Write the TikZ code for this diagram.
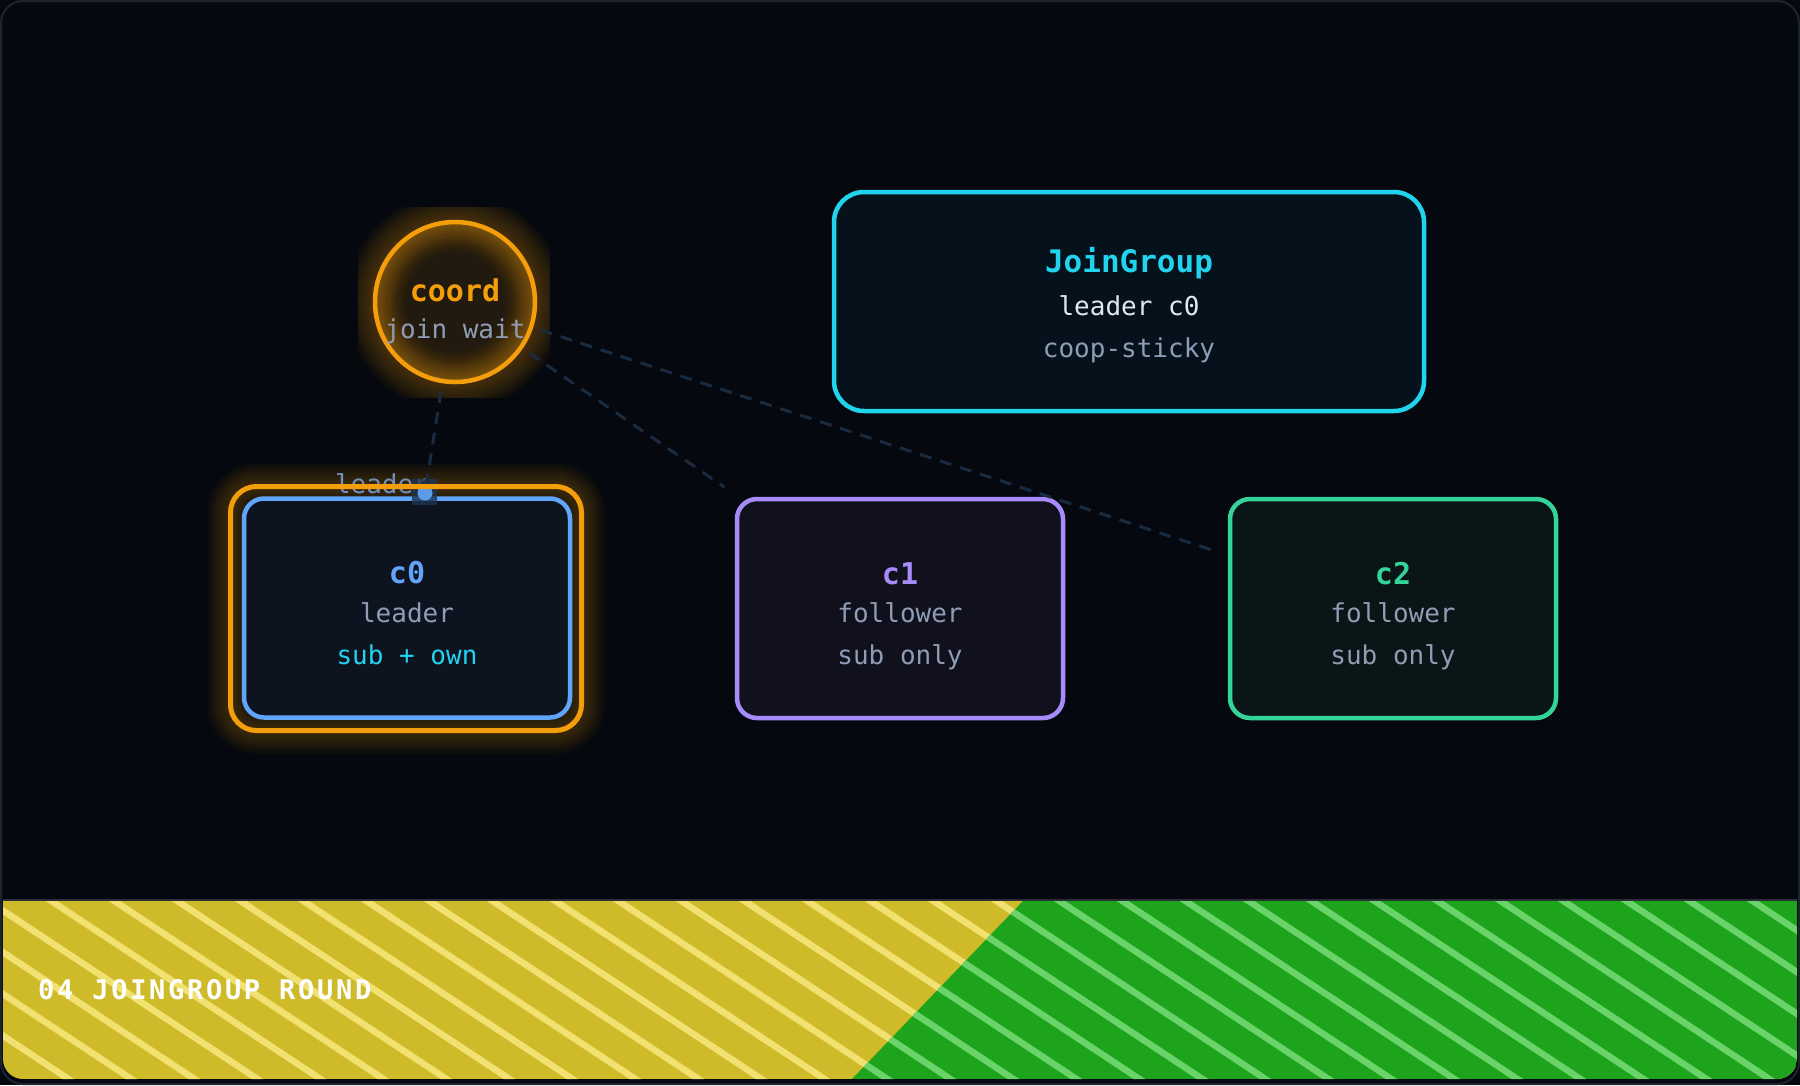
\documentclass[tikz,border=0pt]{standalone}
\usepackage{fontspec}
\setmonofont{DejaVu Sans Mono}
\newfontfamily\bannerfont[LetterSpace=10]{DejaVu Sans Mono}
\definecolor{bg}{HTML}{05080F}
\definecolor{framec}{HTML}{1E242E}
\definecolor{orangec}{HTML}{F59E0B}
\definecolor{bluec}{HTML}{60A5FA}
\definecolor{purplec}{HTML}{A78BFA}
\definecolor{greenc}{HTML}{34D399}
\definecolor{cyanc}{HTML}{22D3EE}
\definecolor{mutedc}{HTML}{8E9DB5}
\definecolor{whitec}{HTML}{E2E8F0}
\definecolor{cofill}{HTML}{0D1420}
\definecolor{cifill}{HTML}{10111D}
\definecolor{ciifill}{HTML}{0A1517}
\definecolor{jgfill}{HTML}{06121B}
\definecolor{connc}{HTML}{1A2B40}
\definecolor{lblc}{HTML}{7390BC}
\definecolor{dotbg}{HTML}{1E3450}
\definecolor{dotc}{HTML}{5E9BE6}
\definecolor{ybanner}{HTML}{CFBB2A}
\definecolor{ystripe}{HTML}{F1E170}
\definecolor{gbanner}{HTML}{1EA41C}
\definecolor{gstripe}{HTML}{6AD46B}
\definecolor{bandline}{HTML}{2A2F38}
\begin{document}
\begin{tikzpicture}[x=1pt,y=-1pt,
  cbox/.style={rectangle, rounded corners=20pt, line width=4.5pt, minimum width=326pt, minimum height=219pt, inner sep=0pt},
  ttl/.style={font=\ttfamily\bfseries\fontsize{30}{30}\selectfont, anchor=base, inner sep=0pt},
  subt/.style={font=\ttfamily\fontsize{26}{26}\selectfont, anchor=base, inner sep=0pt, text=mutedc},
  conn/.style={draw=connc, line width=3pt, dash pattern=on 12pt off 9pt},
  glowline/.style={draw=orangec, draw opacity=0.022}
]
\useasboundingbox (0,0) rectangle (1800,1085);
\fill[bg] (0,0) rectangle (1800,1085);

% banner
\begin{scope}
  \clip[rounded corners=20pt] (3,860) rectangle (1797,1079);
  \fill[ybanner] (3,901) rectangle (1797,1079);
  \begin{scope}
    \clip (3,901) -- (1023,901) -- (852,1079) -- (3,1079) -- cycle;
    \foreach \k in {-6,...,28} \draw[ystripe, line width=6.5pt] ({47+63*\k},898) -- ++(290,192);
  \end{scope}
  \begin{scope}
    \clip (1023,901) -- (1797,901) -- (1797,1079) -- (852,1079) -- cycle;
    \fill[gbanner] (800,901) rectangle (1797,1079);
    \foreach \k in {-6,...,28} \draw[gstripe, line width=6.5pt] ({47+63*\k},898) -- ++(290,192);
  \end{scope}
\end{scope}
\draw[bandline, line width=2pt] (3,900) -- (1797,900);
\node[anchor=base west, text=white, inner sep=0pt, font=\bannerfont\bfseries\fontsize{27}{27}\selectfont] (banner) at (38,999) {04 JOINGROUP ROUND};

% coord glow
\begin{scope}
  \clip (358,207) rectangle (550,397);
  \foreach \w in {4,8,...,60} \draw[glowline, line width=\w pt] (455,302) circle (80);
\end{scope}
\fill[orangec, fill opacity=0.12] (455,302) circle (80);
\begin{scope}
  \clip (455,302) circle (80);
  \foreach \w in {4,8,...,40} \draw[glowline, line width=\w pt] (455,302) circle (80);
\end{scope}
\node[circle, minimum size=160pt, inner sep=0pt, draw=orangec, line width=4.5pt] (coord) at (455,302) {};
\node[ttl, text=orangec] (coordT) at (455,301) {coord};
\node[subt] (coordS) at (455,338) {join wait};

% c0 glow
\begin{scope}
  \clip (207,459) rectangle (608,758);
  \foreach \w in {4,8,...,48} \draw[glowline, line width=\w pt, rounded corners=26pt] (230.5,486.5) rectangle (581.5,730.5);
\end{scope}

% JoinGroup
\node[cbox, draw=cyanc, fill=jgfill, minimum width=590pt, rounded corners=30pt] (jg) at (1129,301.5) {};
\node[ttl, text=cyanc, font=\ttfamily\bfseries\fontsize{31}{31}\selectfont] (jgT) at (1129,272) {JoinGroup};
\node[subt, text=whitec] (jgS1) at (1129,315) {leader c0};
\node[subt] (jgS2) at (1129,357) {coop-sticky};

% c0
\node[cbox, draw=bluec, fill=cofill] (c0) at (407,608) {};
\node[ttl, text=bluec] (c0T) at (407,583) {c0};
\node[subt] (c0S1) at (407,622) {leader};
\node[subt, text=cyanc] (c0S2) at (407,664) {sub + own};

% c1
\node[cbox, draw=purplec, fill=cifill] (c1) at (900,608.5) {};
\node[ttl, text=purplec] (c1T) at (900,584) {c1};
\node[subt] (c1S1) at (900,622) {follower};
\node[subt] (c1S2) at (900,664) {sub only};

% c2
\node[cbox, draw=greenc, fill=ciifill] (c2) at (1393,608.5) {};
\node[ttl, text=greenc] (c2T) at (1393,584) {c2};
\node[subt] (c2S1) at (1393,622) {follower};
\node[subt] (c2S2) at (1393,664) {sub only};

% leader marker
\node[subt, text=lblc] (leaderL) at (382,493) {leader};
\node[fill=dotbg, fill opacity=0.8, minimum width=25pt, minimum height=26pt, inner sep=0pt] (dotbox) at (424.5,492) {};
\node[circle, fill=dotc, minimum size=15pt, inner sep=0pt] (dot) at (425,493) {};
\node[draw=orangec, line width=5pt, rounded corners=26pt, minimum width=351pt, minimum height=244pt, inner sep=0pt] (c0ring) at (406,608.5) {};

% connectors
\draw[conn, shorten <=8pt, shorten >=14pt] (coord) -- (c0);
\draw[conn, shorten <=8pt, shorten >=17pt] (coord) -- (c1);
\draw[conn, shorten <=8pt, shorten >=17pt] (coord) -- (c2);

% frame
\draw[framec, line width=2pt, rounded corners=22pt] (1,1) rectangle (1799,1084);
\end{tikzpicture}
\end{document}
